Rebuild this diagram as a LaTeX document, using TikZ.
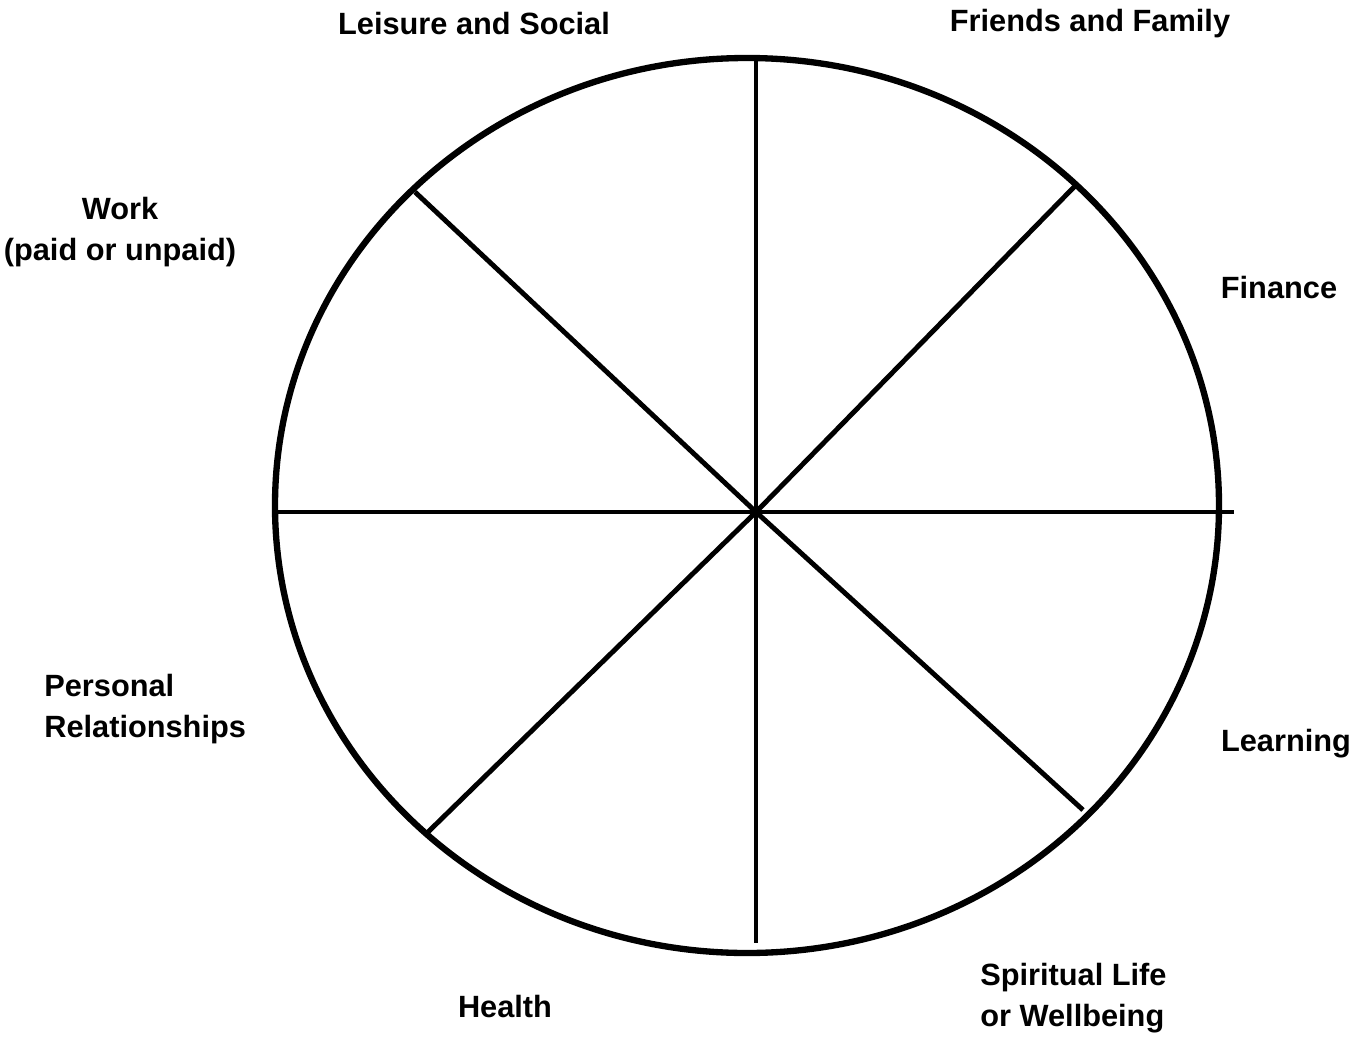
\documentclass[tikz,border=0pt]{standalone}
\usepackage{fontspec}
\setmainfont{Liberation Sans}
\usepackage{tikz}
\usetikzlibrary{positioning}
\tikzset{
  rim/.style={draw=black, line width=3.6pt},
  spoke/.style={draw=black, line width=2.8pt},
  area/.style={font=\fontsize{17.5}{23}\selectfont\bfseries, align=center, inner sep=0pt},
  arealeft/.style={area, align=left, anchor=west}
}

\begin{document}
\begin{tikzpicture}[x=0.02cm, y=-0.02cm]
  \useasboundingbox (0,0) rectangle (1367,1038);
  % wheel
  \draw[rim] (747,505.5) ellipse [x radius=472, y radius=447.5];
  \coordinate (hub) at (756,512);
  \coordinate (n) at (756,58);
  \coordinate (s) at (756,943);
  \coordinate (w) at (278,512);
  \coordinate (e) at (1234,512);
  \coordinate (nw) at (415,192);
  \coordinate (ne) at (1075,186);
  \coordinate (sw) at (427,833);
  \coordinate (se) at (1083,810);
  \foreach \d in {n,s,w,e,nw,ne,sw,se}
    \draw[spoke] (hub) -- (\d);
  % labels
  \node[area] (leisure) at (474,24) {Leisure and Social};
  \node[area] (friends) at (1090,24) {Friends and Family};
  \node[area] (work) at (120,232) {Work\\(paid or unpaid)};
  \node[area] (finance) at (1279,288) {Finance};
  \node[arealeft] (personal) at (44,709) {Personal\\Relationships};
  \node[area] (learning) at (1286,744) {Learning};
  \node[area] (health) at (505,1007) {Health};
  \node[arealeft] (spiritual) at (980,998) {Spiritual Life\\or Wellbeing};
\end{tikzpicture}
\end{document}
